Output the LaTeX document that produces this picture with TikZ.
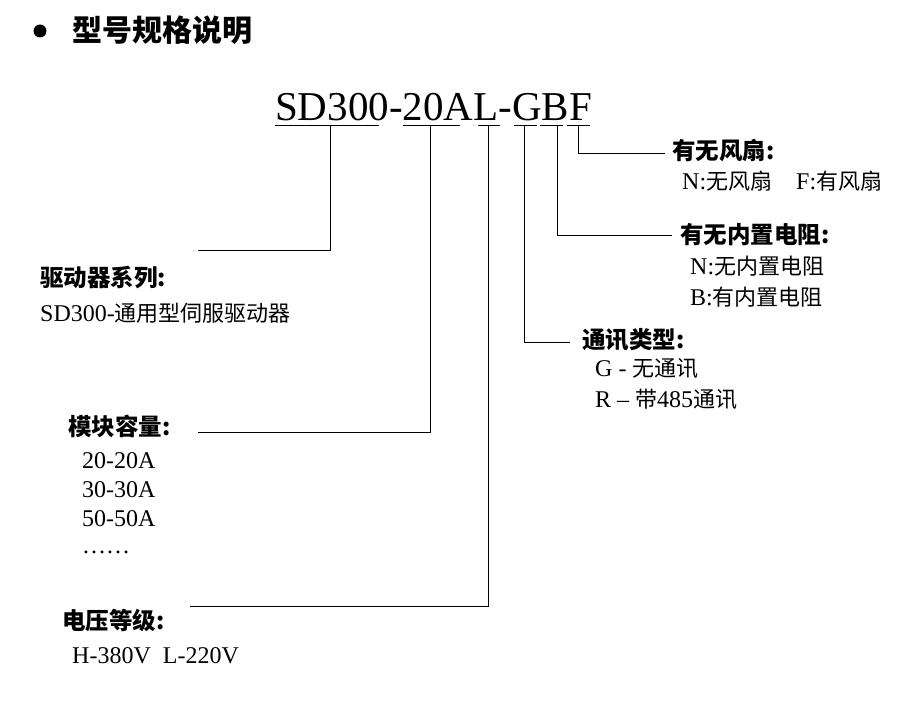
\documentclass[tikz,border=0pt]{standalone}
\usepackage{fontspec}
\setmainfont{Liberation Serif}
\newfontfamily\cjk{Noto Sans CJK SC}
\begin{document}
\begin{tikzpicture}[x=1pt,y=-1pt,
  lbl/.style={anchor=west,inner sep=0pt,font=\fontsize{24}{26}\selectfont},
  hd/.style={anchor=west,inner sep=0pt,font=\fontsize{23.5}{26}\selectfont\cjk\bfseries},
  ln/.style={line width=0.8pt}]
\useasboundingbox (0,0) rectangle (905,719);
\fill (40,31) circle (6.5);
\node[anchor=west,inner sep=0pt,font=\fontsize{30}{32}\selectfont\cjk\bfseries] (title) at (72,30) {型号规格说明};
\node[anchor=base west,inner sep=0pt,font=\fontsize{41}{43}\selectfont] (code) at (275,121) {SD300-20AL-GBF};
% underlines
\foreach \a/\b in {275/379,403/460,478/500,514/537,540/563,567/590}
  \draw[ln] (\a,125) -- (\b,125);
\coordinate (u1) at (330,125); \coordinate (c1) at (330,250); \coordinate (e1) at (198,250);
\coordinate (u2) at (430,125); \coordinate (c2) at (430,432); \coordinate (e2) at (198,432);
\coordinate (u3) at (488,125); \coordinate (c3) at (488,606); \coordinate (e3) at (190,606);
\coordinate (u4) at (524,125); \coordinate (c4) at (524,342); \coordinate (e4) at (570,342);
\coordinate (u5) at (557,125); \coordinate (c5) at (557,235); \coordinate (e5) at (672,235);
\coordinate (u6) at (578,125); \coordinate (c6) at (578,153); \coordinate (e6) at (665,153);
\foreach \i in {1,...,6} \draw[ln] (u\i) -- (c\i) -- (e\i);
% left labels
\node[hd] (h1) at (40,278) {驱动器系列:};
\node[lbl] (t1) at (40,313) {SD300-{\cjk\fontsize{22}{24}\selectfont 通用型伺服驱动器}};
\node[hd] (h2) at (68,426) {模块容量:};
\node[lbl] (t2a) at (82,461) {20-20A};
\node[lbl] (t2b) at (82,490) {30-30A};
\node[lbl] (t2c) at (82,519) {50-50A};
\node[lbl] (t2d) at (82,552) {……};
\node[hd] (h3) at (62,621) {电压等级:};
\node[lbl] (t3) at (72,656) {H-380V\ \ L-220V};
% right labels
\node[hd] (h6) at (672,151) {有无风扇:};
\node[lbl] (t6) at (682,181) {N:{\cjk\fontsize{22}{24}\selectfont 无风扇}\quad F:{\cjk\fontsize{22}{24}\selectfont 有风扇}};
\node[hd] (h5) at (680,235) {有无内置电阻:};
\node[lbl] (t5a) at (690,266) {N:{\cjk\fontsize{22}{24}\selectfont 无内置电阻}};
\node[lbl] (t5b) at (690,297) {B:{\cjk\fontsize{22}{24}\selectfont 有内置电阻}};
\node[hd] (h4) at (582,340) {通讯类型:};
\node[lbl] (t4a) at (595,369) {G - {\cjk\fontsize{22}{24}\selectfont 无通讯}};
\node[lbl] (t4b) at (595,399) {R -- {\cjk\fontsize{22}{24}\selectfont 带}485{\cjk\fontsize{22}{24}\selectfont 通讯}};
\end{tikzpicture}
\end{document}
